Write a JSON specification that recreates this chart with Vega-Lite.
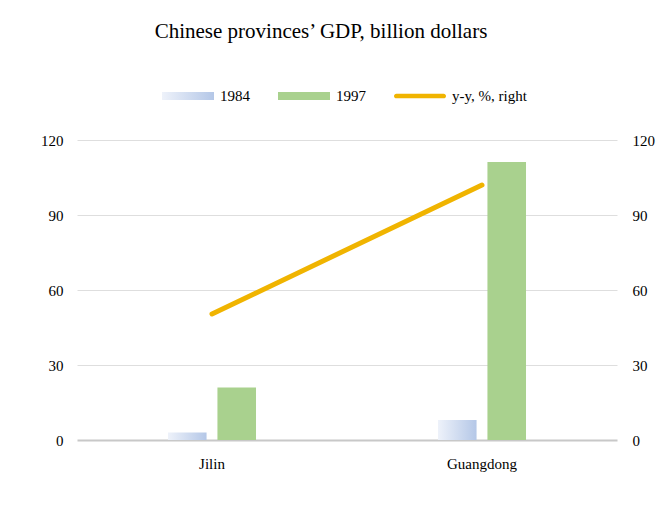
{
  "$schema": "https://vega.github.io/schema/vega-lite/v6.json",
  "width": 540,
  "height": 300,
  "autosize": "none",
  "padding": {"left": 77, "top": 140, "right": 55, "bottom": 80},
  "background": "white",
  "config": {"view": {"stroke": null}, "font": "Liberation Serif, 'Times New Roman', serif"},
  "title": {
    "text": "Chinese provinces’ GDP, billion dollars",
    "font": "Liberation Serif, 'Times New Roman', serif",
    "fontSize": 21,
    "fontWeight": "normal",
    "color": "#000000",
    "offset": 28,
    "dx": -26
  },
  "data": {
    "values": [
      {"province": "Jilin", "series": "1984", "value": 3},
      {"province": "Jilin", "series": "1997", "value": 21},
      {"province": "Jilin", "series": "y-y, %, right", "value": 50.4},
      {"province": "Guangdong", "series": "1984", "value": 8},
      {"province": "Guangdong", "series": "1997", "value": 111.2},
      {"province": "Guangdong", "series": "y-y, %, right", "value": 102}
    ]
  },
  "encoding": {
    "x": {
      "field": "province",
      "type": "nominal",
      "sort": ["Jilin", "Guangdong"],
      "scale": {"paddingInner": 0.674, "paddingOuter": 0.337},
      "axis": {
        "title": null,
        "labelAngle": 0,
        "domain": false,
        "ticks": false,
        "labelFont": "Liberation Serif, 'Times New Roman', serif",
        "labelFontSize": 15,
        "labelColor": "#000000",
        "labelPadding": 16
      }
    }
  },
  "layer": [
    {
      "transform": [{"filter": "datum.series !== 'y-y, %, right'"}],
      "mark": {"type": "bar"},
      "encoding": {
        "xOffset": {"field": "series", "type": "nominal", "sort": ["1984", "1997"], "scale": {"paddingInner": 0.22}},
        "y": {
          "field": "value",
          "type": "quantitative",
          "scale": {"domain": [0, 120]},
          "axis": {
            "title": null,
            "values": [0, 30, 60, 90, 120],
            "domain": false,
            "ticks": false,
            "labelFont": "Liberation Serif, 'Times New Roman', serif",
            "labelFontSize": 15,
            "labelColor": "#000000",
            "labelPadding": 14,
            "grid": true,
            "gridColor": {"condition": {"test": "datum.value === 0", "value": "#c8c8c8"}, "value": "#dedede"},
            "gridWidth": {"condition": {"test": "datum.value === 0", "value": 2}, "value": 1}
          }
        },
        "fill": {
          "condition": {
            "test": "datum.series === '1984'",
            "value": {
              "gradient": "linear",
              "x1": 0, "y1": 0, "x2": 1, "y2": 0,
              "stops": [
                {"offset": 0, "color": "#eef2fa"},
                {"offset": 1, "color": "#b4c7e7"}
              ]
            }
          },
          "value": "#a9d18e"
        }
      }
    },
    {
      "transform": [{"filter": "datum.series === 'y-y, %, right'"}],
      "mark": {"type": "line", "strokeWidth": 5, "strokeCap": "round"},
      "encoding": {
        "y": {
          "field": "value",
          "type": "quantitative",
          "scale": {"domain": [0, 120]},
          "axis": {
            "orient": "right",
            "title": null,
            "values": [0, 30, 60, 90, 120],
            "domain": false,
            "ticks": false,
            "grid": false,
            "labelFont": "Liberation Serif, 'Times New Roman', serif",
            "labelFontSize": 15,
            "labelColor": "#000000",
            "labelPadding": 15
          }
        },
        "color": {
          "field": "series",
          "type": "nominal",
          "scale": {
            "domain": ["1984", "1997", "y-y, %, right"],
            "range": ["#b4c7e7", "#a9d18e", "#f0b400"]
          },
          "legend": {
            "title": null,
            "orient": "none",
            "direction": "horizontal",
            "legendX": 85,
            "legendY": -70,
            "labelFont": "Liberation Serif, 'Times New Roman', serif",
            "labelFontSize": 15,
            "labelColor": "#000000",
            "labelOffset": 6,
            "columnPadding": 28,
            "symbolType": "square",
            "symbolSize": 2704,
            "symbolStrokeWidth": 0,
            "encode": {
              "symbols": {
                "update": {
                  "shape": {"signal": "datum.label === 'y-y, %, right' ? 'M-0.91,-0.09H0.91A0.09,0.09 0 0 1 0.91,0.09H-0.91A0.09,0.09 0 0 1 -0.91,-0.09Z' : 'M-1,-0.15H1V0.15H-1Z'"},
                  "fill": {"signal": "datum.label === '1984' ? {gradient: 'linear', x1: 0, y1: 0, x2: 1, y2: 0, stops: [{offset: 0, color: '#eef2fa'}, {offset: 1, color: '#b4c7e7'}]} : scale('color', datum.value)"},
                  "stroke": {"value": "transparent"},
                  "strokeWidth": {"value": 0},
                  "opacity": {"value": 1}
                }
              }
            }
          }
        }
      }
    }
  ],
  "resolve": {"scale": {"y": "independent"}}
}
